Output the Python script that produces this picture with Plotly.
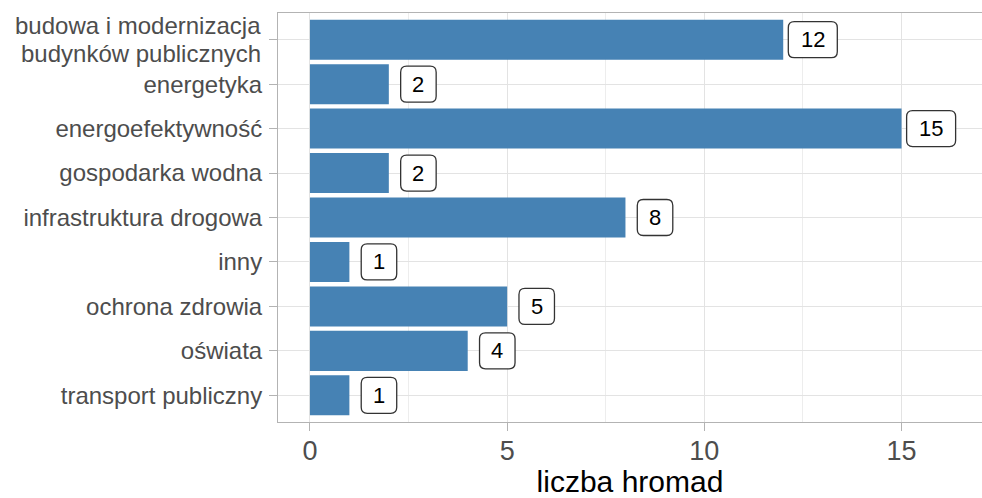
import plotly.graph_objects as go

# Categories (top to bottom) and number of hromadas per category
categories = [
    "budowa i modernizacja<br>budynków publicznych",
    "energetyka",
    "energoefektywność",
    "gospodarka wodna",
    "infrastruktura drogowa",
    "inny",
    "ochrona zdrowia",
    "oświata",
    "transport publiczny",
]
counts = [12, 2, 15, 2, 8, 1, 5, 4, 1]

x_ticks = [0, 5, 10, 15]
x_title = "liczba hromad"

BAR_COLOR = "#4682B4"
GRID = "#E3E3E3"
BORDER = "#B3B3B3"
TICK_TEXT = "#4D4D4D"
FONT = "Liberation Sans, Arial, sans-serif"
LABEL_NUDGE = 0.75
TICK_FONT_Y = 24
LINE_STEP = 28  # px between lines of a wrapped category label

positions = list(range(len(categories)))

fig = go.Figure(
    go.Bar(
        x=counts,
        y=positions,
        orientation="h",
        width=0.9,
        marker=dict(color=BAR_COLOR, line=dict(width=0)),
        hoverinfo="x",
    )
)


def rounded_box(w, h, r):
    hw, hh = w / 2, h / 2
    return (
        f"M {-hw + r},{-hh} L {hw - r},{-hh} Q {hw},{-hh} {hw},{-hh + r} "
        f"L {hw},{hh - r} Q {hw},{hh} {hw - r},{hh} "
        f"L {-hw + r},{hh} Q {-hw},{hh} {-hw},{hh - r} "
        f"L {-hw},{-hh + r} Q {-hw},{-hh} {-hw + r},{-hh} Z"
    )


shapes = []
annotations = []
for pos, val in zip(positions, counts):
    text = str(val)
    box_w = 22 + 13.5 * len(text)
    shapes.append(
        dict(
            type="path",
            xref="x",
            yref="y",
            xsizemode="pixel",
            ysizemode="pixel",
            xanchor=val + LABEL_NUDGE,
            yanchor=pos,
            path=rounded_box(box_w, 36, 6),
            fillcolor="white",
            line=dict(color="#333333", width=1.3),
            layer="above",
        )
    )
    annotations.append(
        dict(
            x=val + LABEL_NUDGE,
            y=pos,
            xref="x",
            yref="y",
            text=text,
            showarrow=False,
            font=dict(size=22, color="black", family=FONT),
        )
    )

# Wrapped category names are drawn line by line with a tighter line spacing
tick_text = []
for pos, cat in zip(positions, categories):
    lines = cat.split("<br>")
    if len(lines) == 1:
        tick_text.append(cat)
        continue
    tick_text.append("")
    n = len(lines)
    for k, line in enumerate(lines):
        annotations.append(
            dict(
                x=0,
                y=pos,
                xref="paper",
                yref="y",
                xanchor="right",
                yanchor="middle",
                xshift=-15,
                yshift=((n - 1) / 2 - k) * LINE_STEP,
                text=line,
                showarrow=False,
                font=dict(size=TICK_FONT_Y, color=TICK_TEXT, family=FONT),
            )
        )

fig.update_layout(
    width=982,
    height=498,
    margin=dict(l=278, r=0, t=13, b=76),
    paper_bgcolor="white",
    plot_bgcolor="white",
    font=dict(family=FONT),
    showlegend=False,
    bargap=0.1,
    shapes=shapes,
    annotations=annotations,
)

fig.update_xaxes(
    range=[-0.81, 17.04],
    tickvals=x_ticks,
    ticktext=[str(t) for t in x_ticks],
    tickfont=dict(size=27, color=TICK_TEXT, family=FONT),
    ticks="outside",
    ticklen=8,
    tickcolor=BORDER,
    tickwidth=1,
    ticklabelstandoff=-3,
    showgrid=True,
    gridcolor=GRID,
    gridwidth=1,
    minor=dict(tickvals=[2.5, 7.5, 12.5], showgrid=True, gridcolor="#EDEDED", gridwidth=1),
    zeroline=False,
    showline=True,
    linecolor=BORDER,
    linewidth=1,
    mirror=True,
    title=dict(text=x_title, font=dict(size=30, color="black", family=FONT), standoff=4),
)

fig.update_yaxes(
    range=[8.6, -0.6],
    tickvals=positions,
    ticktext=tick_text,
    tickfont=dict(size=TICK_FONT_Y, color=TICK_TEXT, family=FONT),
    ticks="outside",
    ticklen=8,
    tickcolor=BORDER,
    tickwidth=1,
    ticklabelstandoff=2,
    showgrid=True,
    gridcolor=GRID,
    gridwidth=1,
    zeroline=False,
    showline=True,
    linecolor=BORDER,
    linewidth=1,
    mirror=True,
)

fig.write_html("out.html")
